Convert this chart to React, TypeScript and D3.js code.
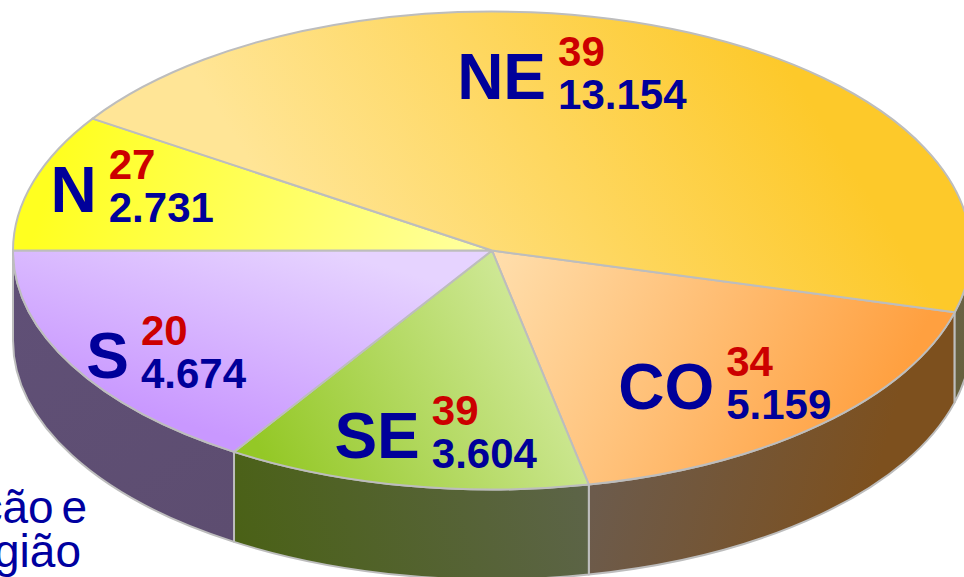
import React from "react";
import * as d3 from "d3";

// ---- data ----
const regions = ["CO", "SE", "S", "N", "NE"];
const values = [5.159, 3.604, 4.674, 2.731, 13.154];
const valueLabels = ["5.159", "3.604", "4.674", "2.731", "13.154"];
const redLabels = ["34", "39", "20", "27", "39"];

// ---- layout ----
const W = 964;
const H = 577;
const cx = 492;
const cy = 250.5;
const rx = 479;
const ry = 239;
const depth = 90;
const startT = (15 * Math.PI) / 180; // parametric angle (y-down, clockwise from +x)

// label nudges relative to centroid (dx, dy) at fraction 0.6
const labelNudge = [
  [37, 54],
  [-8, 66],
  [-99, 59],
  [-108, 3],
  [-52, -21],
];

const topGrad = [
  { id: "gCO", x1: 500, y1: 260, x2: 870, y2: 440, c1: "#FFDDAA", c2: "#FFA040" },
  { id: "gSE", x1: 260, y1: 450, x2: 560, y2: 290, c1: "#94C826", c2: "#D6ECA4" },
  { id: "gS", x1: 330, y1: 250, x2: 270, y2: 450, c1: "#E6D3FF", c2: "#C998FF" },
  { id: "gN", x1: 70, y1: 120, x2: 470, y2: 250, c1: "#FFFF20", c2: "#FFFF9C" },
  { id: "gNE", x1: 330, y1: 290, x2: 760, y2: 20, c1: "#FFE596", c2: "#FDC92A" },
];
const sideGrad = [
  { id: "sCO", x1: 600, y1: 470, x2: 860, y2: 540, c1: "#6C5B4C", c2: "#7D501E" },
  { id: "sSE", x1: 590, y1: 470, x2: 240, y2: 560, c1: "#5D6449", c2: "#4A6116" },
  { id: "sS", x1: 20, y1: 260, x2: 230, y2: 540, c1: "#605077", c2: "#5D4D70" },
  { id: "sN", x1: 0, y1: 0, x2: 1, y2: 1, c1: "#555", c2: "#555" },
  { id: "sNE", x1: 950, y1: 300, x2: 970, y2: 400, c1: "#6A6244", c2: "#66603C" },
];

const pt = (t: number, dy = 0): [number, number] => [
  cx + rx * Math.cos(t),
  cy + ry * Math.sin(t) + dy,
];

export default function App() {
  const pie = d3
    .pie<number>()
    .sort(null)
    .value((d) => d)
    .startAngle(startT + Math.PI / 2)
    .endAngle(startT + Math.PI / 2 + 2 * Math.PI);
  const arcs = pie(values);

  const slices = arcs.map((a, i) => {
    const t0 = a.startAngle - Math.PI / 2;
    const t1 = a.endAngle - Math.PI / 2;
    const [x0, y0] = pt(t0);
    const [x1, y1] = pt(t1);
    const large = t1 - t0 > Math.PI ? 1 : 0;
    const top = `M${cx},${cy}L${x0},${y0}A${rx},${ry} 0 ${large} 1 ${x1},${y1}Z`;
    const walls: string[] = [];
    for (const k of [0, 2 * Math.PI]) {
      const lo = Math.max(t0, k);
      const hi = Math.min(t1, k + Math.PI);
      if (hi > lo) {
        const [ax, ay] = pt(lo);
        const [bx, by] = pt(hi);
        walls.push(
          `M${ax},${ay}A${rx},${ry} 0 0 1 ${bx},${by}L${bx},${by + depth}A${rx},${ry} 0 0 0 ${ax},${ay + depth}Z`
        );
      }
    }
    const tm = (t0 + t1) / 2;
    const [mx, my] = [cx + 0.6 * rx * Math.cos(tm), cy + 0.6 * ry * Math.sin(tm)];
    const X = mx + labelNudge[i][0];
    const B = my + labelNudge[i][1];
    return { top, walls, X, B, i };
  });

  const font = "'Liberation Sans', Arial, Helvetica, sans-serif";
  const blue = "#00009A";
  const red = "#CC0000";

  return (
    <div style={{ position: "absolute", left: 0, top: 0, width: W, height: H, overflow: "hidden" }}>
      <svg width={W} height={H} viewBox={`0 0 ${W} ${H}`} style={{ display: "block", background: "#fff" }}>
        <defs>
          {[...topGrad, ...sideGrad].map((g) => (
            <linearGradient key={g.id} id={g.id} gradientUnits="userSpaceOnUse" x1={g.x1} y1={g.y1} x2={g.x2} y2={g.y2}>
              <stop offset="0" stopColor={g.c1} />
              <stop offset="1" stopColor={g.c2} />
            </linearGradient>
          ))}
        </defs>
        <g fontFamily={font} fill="#0000A0">
          <text x={87} y={523} fontSize={46} textAnchor="end" wordSpacing={-5}>
            Distribuição e
          </text>
          <text x={81} y={567} fontSize={46} textAnchor="end">
            região
          </text>
        </g>
        {slices.map((s) =>
          s.walls.map((w, j) => (
            <path key={`w${s.i}-${j}`} d={w} fill={`url(#${sideGrad[s.i].id})`} stroke="#BDBDBD" strokeWidth={2} strokeLinejoin="round" />
          ))
        )}
        {slices.map((s) => (
          <path key={`t${s.i}`} d={s.top} fill={`url(#${topGrad[s.i].id})`} stroke="#BDBDBD" strokeWidth={2} strokeLinejoin="round" />
        ))}
        {slices.map((s) => (
          <g key={`l${s.i}`} fontFamily={font} fontWeight="bold">
            <text x={s.X - 12} y={s.B} fontSize={64} fill={blue} textAnchor="end">
              {regions[s.i]}
            </text>
            <text x={s.X} y={s.B - 33} fontSize={42} fill={red}>
              {redLabels[s.i]}
            </text>
            <text x={s.X} y={s.B + 10} fontSize={42} fill={blue}>
              {valueLabels[s.i]}
            </text>
          </g>
        ))}
      </svg>
    </div>
  );
}
